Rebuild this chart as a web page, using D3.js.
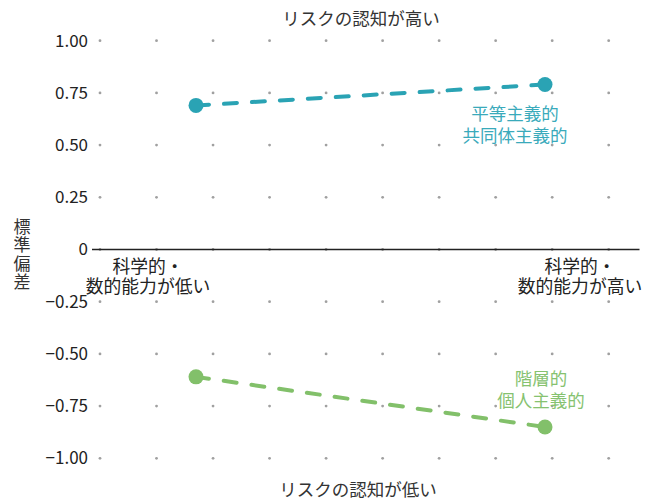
<!DOCTYPE html>
<html>
<head>
<meta charset="utf-8">
<script src="https://cdn.jsdelivr.net/npm/d3@7"></script>
<style>
  body { margin: 0; background: #fff; }
  text { font-family: "Noto Sans CJK JP", "Noto Sans", sans-serif; }
</style>
</head>
<body>
<svg id="chart" width="654" height="500"></svg>
<script>
// ---- data ----
const categories = ["科学的・\n数的能力が低い", "科学的・\n数的能力が高い"];
const egalitarian = [0.69, 0.79];   // 平等主義的・共同体主義的
const hierarchical = [-0.61, -0.85]; // 階層的・個人主義的
const seriesNames = ["平等主義的\n共同体主義的", "階層的\n個人主義的"];
const yTicks = [1.00, 0.75, 0.50, 0.25, 0, -0.25, -0.50, -0.75, -1.00];
const yTickLabels = ["1.00", "0.75", "0.50", "0.25", "0", "−0.25", "−0.50", "−0.75", "−1.00"];
const yTitle = "標準偏差";
const topLabel = "リスクの認知が高い";
const bottomLabel = "リスクの認知が低い";
const gridColumns = d3.range(10);

const colors = ["#2aa3b4", "#82c06a"];
const labelColors = ["#3aaabb", "#86c270"];

const svg = d3.select("#chart");
const y = d3.scaleLinear().domain([-1, 1]).range([458.3, 40.7]);
const x = d3.scaleLinear().domain([0, 1]).range([196, 545]);
const xGrid = d3.scaleLinear().domain([0, 9]).range([100, 608.7]);

// dotted grid
const gridG = svg.append("g");
yTicks.forEach(v => {
  gridG.selectAll(null).data(gridColumns).enter().append("circle")
    .attr("cx", d => xGrid(d)).attr("cy", y(v)).attr("r", 1.4)
    .attr("fill", "#a0a0a0");
});

// zero line
svg.append("line")
  .attr("x1", 92).attr("x2", 639.5)
  .attr("y1", y(0)).attr("y2", y(0))
  .attr("stroke", "#222").attr("stroke-width", 1.4);

// y tick labels
svg.append("g").selectAll("text").data(yTicks).enter().append("text")
  .attr("x", 88).attr("y", d => y(d))
  .attr("dy", "0.35em")
  .attr("text-anchor", "end")
  .attr("font-size", 17)
  .attr("fill", "#222")
  .text((d, i) => yTickLabels[i]);

// y title (vertical)
svg.append("text")
  .attr("x", 22).attr("y", 255)
  .attr("font-size", 17).attr("fill", "#333")
  .attr("text-anchor", "middle")
  .style("writing-mode", "vertical-rl")
  .style("letter-spacing", "1.5px")
  .text(yTitle);

// top & bottom labels
svg.append("text").attr("x", 361).attr("y", 25).attr("text-anchor", "middle")
  .attr("font-size", 17.5).attr("fill", "#333").text(topLabel);
svg.append("text").attr("x", 358).attr("y", 496).attr("text-anchor", "middle")
  .attr("font-size", 17.5).attr("fill", "#333").text(bottomLabel);

// category labels
const catX = [x(0) - 48, x(1) + 35];
categories.forEach((c, i) => {
  const t = svg.append("text").attr("text-anchor", "middle").attr("font-size", 17.8).attr("fill", "#222");
  c.split("\n").forEach((line, j) => {
    t.append("tspan").attr("x", catX[i]).attr("y", 273 + j * 20).text(line);
  });
});

// series
const series = [egalitarian, hierarchical];
const line = d3.line().x((d, i) => x(i)).y(d => y(d));
series.forEach((s, k) => {
  svg.append("path").datum(s)
    .attr("d", line)
    .attr("fill", "none")
    .attr("stroke", colors[k])
    .attr("stroke-width", 4)
    .attr("stroke-linecap", "round")
    .attr("stroke-dasharray", "13,15");
  svg.append("g").selectAll("circle").data(s).enter().append("circle")
    .attr("cx", (d, i) => x(i)).attr("cy", d => y(d)).attr("r", 7.5)
    .attr("fill", colors[k]);
});

// series labels
const labelPos = [{ x: x(1) - 30, y: 120 }, { x: x(1) - 4, y: 385 }];
seriesNames.forEach((n, k) => {
  const t = svg.append("text").attr("text-anchor", "middle").attr("font-size", 17.5).attr("fill", labelColors[k]);
  n.split("\n").forEach((line, j) => {
    t.append("tspan").attr("x", labelPos[k].x).attr("y", labelPos[k].y + j * 21.5).text(line);
  });
});
</script>
</body>
</html>
